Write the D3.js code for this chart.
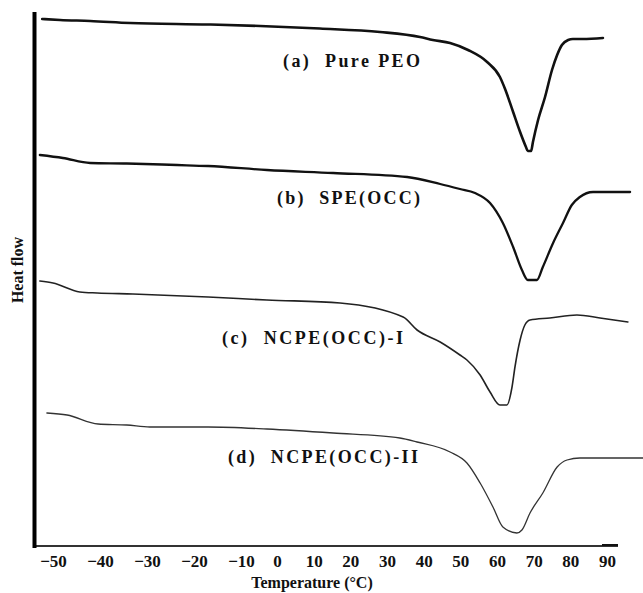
<!DOCTYPE html>
<html>
<head>
<meta charset="utf-8">
<script src="https://cdn.jsdelivr.net/npm/d3@7"></script>
<style>
  html, body { margin: 0; padding: 0; background: #fff; }
  svg { display: block; }
</style>
</head>
<body>
<svg id="chart" width="643" height="593"></svg>
<script>
// DSC thermograms: temperature (°C) vs heat flow (arbitrary units, curves offset vertically)
const tempTicks = [-50, -40, -30, -20, -10, 0, 10, 20, 30, 40, 50, 60, 70, 80, 90];

const pureTemp = [-52.3, -48.5, -42.1, -33.6, -17.0, -4.7, 11.7, 28.1, 39.0, 42.5, 47.2, 52.1, 57.3, 60.8, 62.2, 64.4, 66.3, 67.9, 68.4, 69.3, 69.8, 71.2, 73.1, 75.0, 76.4, 77.7, 79.4, 80.7, 83.4, 88.9];
const pureFlow = [527, 526, 525, 523, 521.5, 520, 517.5, 514, 509, 506, 503, 496, 484, 469, 457, 434, 414, 399, 395, 395, 404, 426, 449, 476, 491, 501, 506, 507, 507, 508];

const speTemp = [-52.8, -47.9, -42.1, -34.3, -23.6, -17.0, -2.8, 15.3, 35.5, 44.5, 49.9, 54.0, 58.1, 61.6, 64.4, 66.8, 68.4, 70.9, 72.5, 75.3, 78.0, 80.4, 82.6, 86.2, 96.3];
const speFlow = [391, 388, 383, 382.5, 381, 380, 376, 373, 369, 362, 357, 353, 343, 323, 299, 276, 266, 266, 279, 303, 323, 341, 349, 354, 354];

const ncpe1Temp = [-52.8, -50.0, -44.3, -40.6, -33.0, -17.0, -2.8, 17.2, 34.4, 38.2, 44.5, 49.9, 51.8, 55.4, 58.1, 60.8, 62.7, 64.1, 64.9, 66.3, 67.6, 69.0, 74.4, 81.8, 88.1, 95.7];
const ncpe1Flow = [265, 263, 254, 253, 252, 249, 246, 243, 229, 216, 204, 191, 186, 171, 154, 141, 141, 159, 179, 206, 221, 226, 228, 231, 228, 224];

const ncpe2Temp = [-51.3, -47.0, -40.4, -34.3, -29.4, -17.0, -2.8, 15.3, 33.5, 38.2, 47.2, 51.8, 55.4, 58.9, 61.6, 65.4, 66.8, 69.0, 72.5, 76.4, 79.1, 82.6, 99.8];
const ncpe2Flow = [133, 131, 122, 121, 119, 119, 117, 113, 108, 104, 94, 83, 63, 39, 19, 13, 16, 33, 53, 79, 86, 88, 88];

const seriesNames = ["(a)  Pure PEO", "(b)  SPE(OCC)", "(c)  NCPE(OCC)-I", "(d)  NCPE(OCC)-II"];

const serif = "'Liberation Serif', 'Times New Roman', serif";
const svg = d3.select("#chart");

// The printed temperature axis is not evenly spaced; a piecewise scale reproduces it.
const x = d3.scaleLinear().domain([-50, -10, 0, 90]).range([53, 241, 277, 607]);
const y = d3.scaleLinear().domain([0, 534]).range([546, 12]);

const series = [
  { name: seriesNames[0], t: pureTemp, v: pureFlow, width: 2.6, color: "#111", lx: 283, ly: 67, len: 137 },
  { name: seriesNames[1], t: speTemp, v: speFlow, width: 2.3, color: "#111", lx: 277, ly: 204, len: 143 },
  { name: seriesNames[2], t: ncpe1Temp, v: ncpe1Flow, width: 1.6, color: "#222", lx: 222, ly: 344, len: 181 },
  { name: seriesNames[3], t: ncpe2Temp, v: ncpe2Flow, width: 1.3, color: "#333", lx: 228, ly: 463, len: 190 }
];

const line = d3.line()
  .x(d => x(d[0]))
  .y(d => y(d[1]))
  .curve(d3.curveMonotoneX);

series.forEach(s => {
  const pts = s.t.map((t, i) => [t, s.v[i]]);
  svg.append("path")
    .attr("d", line(pts))
    .attr("fill", "none")
    .attr("stroke", s.color)
    .attr("stroke-width", s.width)
    .attr("stroke-linejoin", "round")
    .attr("stroke-linecap", "round");
  svg.append("text")
    .attr("x", s.lx)
    .attr("y", s.ly)
    .style("font-family", serif)
    .style("font-weight", "bold")
    .style("font-size", "18px")
    .attr("fill", "#111")
    .attr("textLength", s.len)
    .attr("lengthAdjust", "spacing")
    .attr("xml:space", "preserve")
    .text(s.name);
});

// Bottom axis: labels only, drawn with a separate baseline
const xAxis = d3.axisBottom(x)
  .tickValues(tempTicks)
  .tickSize(0)
  .tickPadding(0)
  .tickFormat(d3.format("d"));

const gx = svg.append("g")
  .attr("transform", "translate(0,567)")
  .call(xAxis);
gx.select(".domain").remove();
gx.selectAll("text")
  .attr("dy", null)
  .attr("y", 0)
  .attr("fill", "#111")
  .style("font-family", serif)
  .style("font-weight", "bold")
  .style("font-size", "17px");

svg.append("line")
  .attr("x1", 33).attr("x2", 618)
  .attr("y1", y(0)).attr("y2", y(0))
  .attr("stroke", "#333")
  .attr("stroke-width", 2);
svg.append("line")
  .attr("x1", 602).attr("x2", 618)
  .attr("y1", y(0) - 1).attr("y2", y(0) - 1)
  .attr("stroke", "#111")
  .attr("stroke-width", 2);

// Left axis: heavy vertical rule
svg.append("line")
  .attr("x1", 34.5).attr("x2", 34.5)
  .attr("y1", y(534)).attr("y2", y(0) + 2)
  .attr("stroke", "#000")
  .attr("stroke-width", 4);

svg.append("text")
  .attr("x", 312)
  .attr("y", 588)
  .attr("text-anchor", "middle")
  .attr("fill", "#111")
  .style("font-family", serif)
  .style("font-weight", "bold")
  .style("font-size", "16px")
  .text("Temperature (°C)");

svg.append("text")
  .attr("transform", "translate(23,270) rotate(-90)")
  .attr("text-anchor", "middle")
  .attr("fill", "#111")
  .style("font-family", serif)
  .style("font-weight", "bold")
  .style("font-size", "16px")
  .text("Heat flow");
</script>
</body>
</html>
